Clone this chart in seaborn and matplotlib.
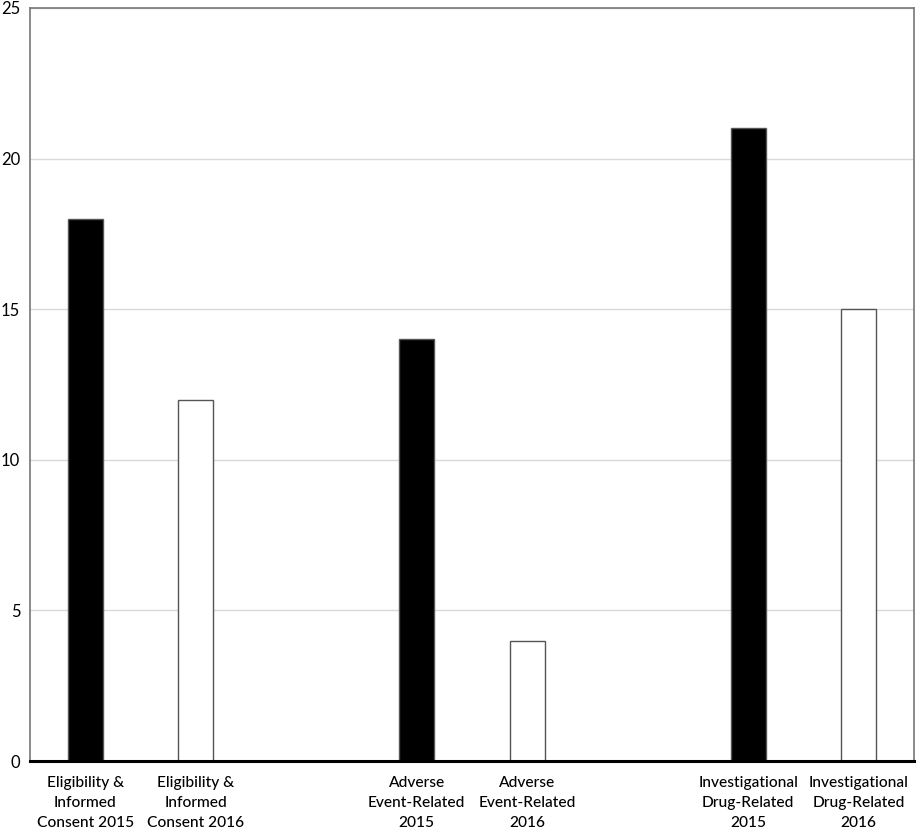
import matplotlib
matplotlib.use("Agg")
import matplotlib.pyplot as plt
import seaborn as sns
import pandas as pd

categories = [
    "Eligibility &\nInformed\nConsent 2015",
    "Eligibility &\nInformed\nConsent 2016",
    "Adverse\nEvent-Related\n2015",
    "Adverse\nEvent-Related\n2016",
    "Investigational\nDrug-Related\n2015",
    "Investigational\nDrug-Related\n2016",
]
years = ["2015", "2016", "2015", "2016", "2015", "2016"]
values = [18, 12, 14, 4, 21, 15]
order = [categories[0], categories[1], " ", categories[2], categories[3], "  ",
         categories[4], categories[5]]
yticks = [0, 5, 10, 15, 20, 25]

sns.set_theme(style="white")
plt.rcParams["font.family"] = ["Lato", "DejaVu Sans"]

df = pd.DataFrame({"cat": categories, "year": years, "val": values})

fig = plt.figure(figsize=(9.17, 8.33), dpi=100)
ax = fig.add_axes([30/917, 72/833, 884/917, 753/833])

sns.barplot(data=df, x="cat", y="val", hue="year", order=order, dodge=False,
            palette={"2015": "black", "2016": "white"}, edgecolor="#555555",
            linewidth=1.0, width=0.32, legend=False, ax=ax, zorder=3)

ax.set_ylim(0, 25)
ax.set_xlim(-0.5, 7.5)
ax.set_yticks(yticks)
ax.set_yticklabels([str(t) for t in yticks], fontsize=12, color="black")
ax.tick_params(axis="x", labelsize=11.2, colors="black", length=0, pad=11)
ax.tick_params(axis="y", length=0, pad=7)
for lab in ax.get_xticklabels():
    lab.set_linespacing(1.55)
    lab.set_fontweight("medium")
ax.set_xlabel("")
ax.set_ylabel("")
ax.yaxis.grid(True, color="#d9d9d9", linewidth=1.0, zorder=0)
ax.set_axisbelow(True)
for s in ["left", "top", "right"]:
    ax.spines[s].set_color("#777777")
    ax.spines[s].set_linewidth(1.2)
ax.spines["bottom"].set_color("black")
ax.spines["bottom"].set_linewidth(2.2)
ax.spines["bottom"].set_zorder(5)

fig.savefig("out.png", dpi=100)
